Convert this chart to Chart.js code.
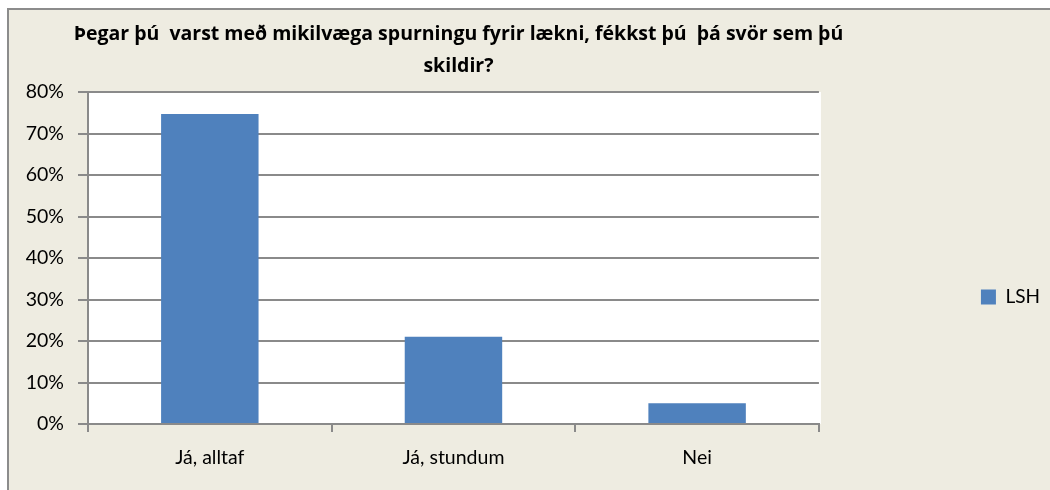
<!DOCTYPE html>
<html>
<head>
<meta charset="utf-8">
<script src="https://cdn.jsdelivr.net/npm/chart.js@4/dist/chart.umd.min.js"></script>
<style>
    html, body { margin: 0; padding: 0; background: #ffffff; overflow: hidden; }
    #frame {
        position: absolute; left: 7px; top: 8px; width: 1100px; height: 600px;
        background: #eeece1; border-left: 2px solid #8c8c8c; border-top: 2px solid #8c8c8c;
    }
    #wrap { position: absolute; left: 0; top: 0; width: 1050px; height: 490px; }
</style>
</head>
<body>
<div id="frame"></div>
<div id="wrap"><canvas id="barChart" width="1050" height="490"></canvas></div>
<script>
// data
const titleLines = ['Þegar þú  varst með mikilvæga spurningu fyrir lækni, fékkst þú  þá svör sem þú', 'skildir?'];
const categories = ['Já, alltaf', 'Já, stundum', 'Nei'];
const seriesName = 'LSH';
const lshValues = [74.7, 21.0, 5.0];
const yTicks = [0, 10, 20, 30, 40, 50, 60, 70, 80];

const FONT = 'Lato, "Open Sans", sans-serif';
const GRID = '#8a8a8a';

// white plot area
const plotBg = {
    id: 'plotBg',
    beforeDraw(chart) {
        const a = chart.chartArea;
        const ctx = chart.ctx;
        ctx.save();
        ctx.fillStyle = '#ffffff';
        ctx.fillRect(a.left, a.top, a.right - a.left + 2, a.bottom - a.top);
        ctx.restore();
    }
};

// legend sits a bit below the middle of the plot; the title may run wider than the plot
const boxTweaks = {
    id: 'boxTweaks',
    afterLayout(chart) {
        const l = chart.legend;
        if (l) {
            l.top += 39;
            l.bottom += 39;
        }
        const t = chart.titleBlock;
        if (t) {
            t.left = chart.chartArea.left - 80;
            t.right = chart.chartArea.right + 90;
        }
    }
};

function renderChart() {
    const ctx = document.getElementById('barChart').getContext('2d');
    new Chart(ctx, {
        type: 'bar',
        data: {
            labels: categories,
            datasets: [{
                label: seriesName,
                data: lshValues,
                backgroundColor: '#4f81bd',
                borderWidth: 0,
                categoryPercentage: 1,
                barPercentage: 0.4
            }]
        },
        options: {
            responsive: false,
            animation: false,
            devicePixelRatio: 1,
            layout: { padding: { top: 0, left: 8, right: 0, bottom: 22 } },
            plugins: {
                title: {
                    display: true,
                    text: titleLines,
                    fullSize: false,
                    color: '#000000',
                    font: { family: '"Open Sans", Lato, sans-serif', size: 19.5, weight: 'bold', lineHeight: 32 / 19.5 },
                    padding: { top: 18, bottom: 10 }
                },
                legend: {
                    position: 'right',
                    fullSize: false,
                    labels: {
                        color: '#000000',
                        font: { family: FONT, size: 19 },
                        boxWidth: 15,
                        boxHeight: 15,
                        padding: 10
                    }
                },
                tooltip: { enabled: false }
            },
            scales: {
                x: {
                    afterFit: (axis) => { axis.height = 44; },
                    grid: { display: true, drawOnChartArea: false, drawTicks: true, tickLength: 8, color: GRID, lineWidth: 2 },
                    border: { color: GRID, width: 2 },
                    ticks: { color: '#000000', font: { family: FONT, size: 19.5 }, padding: 14 }
                },
                y: {
                    min: yTicks[0],
                    max: yTicks[yTicks.length - 1],
                    afterBuildTicks: (axis) => { axis.ticks = yTicks.map(v => ({ value: v })); },
                    afterFit: (axis) => { axis.width = 80; },
                    grid: { color: GRID, lineWidth: 2, tickLength: 10 },
                    border: { color: GRID, width: 2 },
                    ticks: {
                        color: '#000000',
                        font: { family: FONT, size: 19.5 },
                        padding: 14,
                        callback: (v) => v + '%'
                    }
                },
                // empty right-hand axis used only as spacing between plot and legend
                spacer: {
                    type: 'linear',
                    position: 'right',
                    display: true,
                    grid: { display: false },
                    border: { display: false },
                    ticks: { display: false },
                    afterFit: (axis) => { axis.width = 152; }
                }
            }
        },
        plugins: [plotBg, boxTweaks]
    });
}

renderChart();
</script>
</body>
</html>
